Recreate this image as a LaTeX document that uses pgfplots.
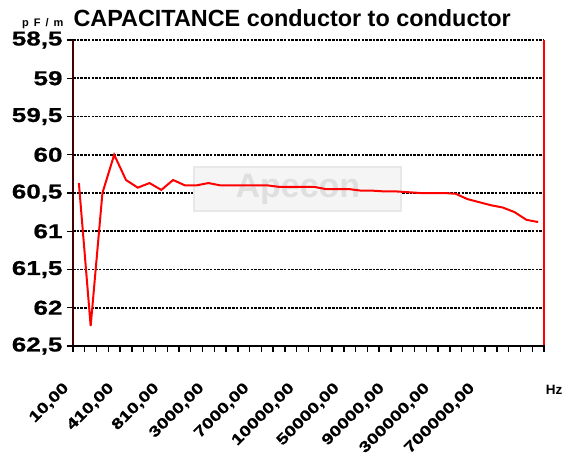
\documentclass[border=0pt]{standalone}
\usepackage{pgfplots}
\pgfplotsset{compat=1.18}
\usepackage{fontspec}
\setmainfont{Liberation Sans}
\newfontfamily\widebf[FakeStretch=1.3, FakeBold=0.8]{Liberation Sans Bold}

\definecolor{darkaxis}{RGB}{70,0,0}

\begin{document}
\begin{tikzpicture}
\useasboundingbox (0,0) rectangle (570bp,462bp);
\begin{axis}[
  at={(73bp,116bp)}, anchor=south west,
  width=471bp, height=306bp, scale only axis,
  xmin=-0.5, xmax=39.5,
  ymin=58.5, ymax=62.5, y dir=reverse,
  axis line style={draw=none},
  major tick length=0pt,
  ytick={58.5,59,59.5,60,60.5,61,61.5,62,62.5},
  yticklabels={{58,5},59,{59,5},60,{60,5},61,{61,5},62,{62,5}},
  yticklabel style={xshift=-7bp, font=\fontsize{20bp}{20bp}\widebf},
  ymajorgrids,
  grid style={black, line width=1.6bp, dash pattern=on 2.5bp off 1.2bp},
  % the category labels sit a little tighter than every 4th category
  xtick={0.43,4.26,8.09,11.92,15.75,19.58,23.41,27.24,31.07,34.9},
  xticklabels={{10,00},{410,00},{810,00},{3000,00},{7000,00},{10000,00},{50000,00},{90000,00},{300000,00},{700000,00}},
  xtick pos=lower, ytick pos=left,
  xticklabel style={xshift=-22bp, yshift=-35bp, rotate=45, anchor=north east,
    inner sep=0pt, font=\fontsize{15bp}{15bp}\widebf},
  clip=false,
]
\node[fill=gray!8, draw=gray!18, line width=2bp, text=gray!25,
  minimum width=207bp, minimum height=44bp,
  font=\fontsize{34bp}{34bp}\selectfont\bfseries]
  at (axis cs:18.6,60.45) {Apecon};
\addplot[red, line width=2bp] coordinates {
  (0,60.37) (1,62.24) (2,60.50) (3,60.00) (4,60.33) (5,60.43)
  (6,60.37) (7,60.46) (8,60.33) (9,60.40) (10,60.40) (11,60.37)
  (12,60.40) (13,60.40) (14,60.40) (15,60.40) (16,60.40) (17,60.42)
  (18,60.42) (19,60.42) (20,60.42) (21,60.45) (22,60.45) (23,60.45)
  (24,60.47) (25,60.47) (26,60.48) (27,60.48) (28,60.49) (29,60.50)
  (30,60.50) (31,60.50) (32,60.51) (33,60.58) (34,60.62) (35,60.66)
  (36,60.69) (37,60.75) (38,60.85) (39,60.88)
};
\end{axis}
% axis frame and tick marks
\draw[red, line width=1.6bp] (544bp,116bp) -- (544bp,422bp);
\draw[darkaxis, line width=1.6bp] (73bp,116bp) -- (73bp,422bp);
\draw[black, line width=2bp] (72bp,116bp) -- (545bp,116bp);
\foreach \i in {0,...,40}
  \draw[black, line width=1.4bp] ({73bp+\i*11.775bp},116bp) -- ++(0,-6bp);
\foreach \k in {0,...,8}
  \draw[black, line width=1.4bp] (73bp,{116bp+\k*38.25bp}) -- ++(-6bp,0);
\node[anchor=base west, font=\fontsize{23.4bp}{23.4bp}\selectfont\bfseries]
  at (70bp,435bp) {CAPACITANCE conductor to conductor};
\node[anchor=base east, font=\fontsize{11bp}{11bp}\selectfont\bfseries]
  at (67bp,435bp) {p\hspace{5bp}F\hspace{5bp}/\hspace{5bp}m};
\node[font=\fontsize{13.5bp}{13.5bp}\selectfont\bfseries] at (554bp,72bp) {Hz};
\end{tikzpicture}
\end{document}
